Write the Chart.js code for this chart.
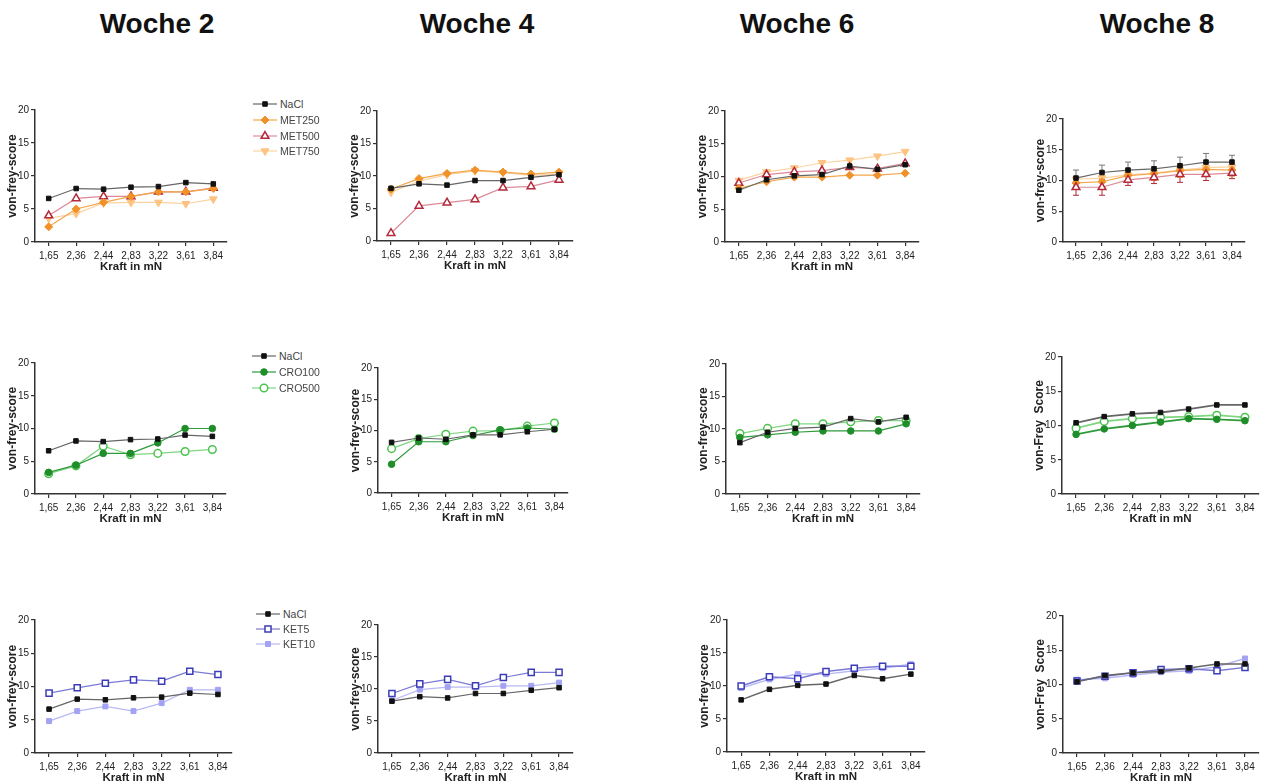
<!DOCTYPE html>
<html>
<head>
<meta charset="utf-8">
<script src="https://cdn.jsdelivr.net/npm/chart.js@4/dist/chart.umd.min.js"></script>
<style>
  body { margin: 0; background: #fff; }
  #page { position: relative; width: 1266px; height: 783px; overflow: hidden; font-family: "Liberation Sans", Arial, sans-serif; }
  .woche { position: absolute; top: 8px; width: 200px; margin-left: -100px; text-align: center; font-size: 28px; font-weight: bold; color: #111; }
  .panel { position: absolute; }
  .leg { position: absolute; display: flex; align-items: center; font-size: 10.5px; color: #444; }
  .leg canvas { margin-right: 3px; }
</style>
</head>
<body>
<div id="page"></div>
<script>
// x categories (Kraft in mN) and y axis range
const kraft = ['1,65', '2,36', '2,44', '2,83', '3,22', '3,61', '3,84'];
const yMin = 0, yMax = 20, yStep = 5;
const wochen = ['Woche 2', 'Woche 4', 'Woche 6', 'Woche 8'];

// NaCl control
const naclW2 = [6.6, 8.1, 8.0, 8.3, 8.4, 9.0, 8.8];
const naclW4 = [8.1, 8.8, 8.6, 9.3, 9.3, 9.8, 10.2];
const naclW6 = [7.9, 9.5, 10.1, 10.3, 11.6, 11.1, 11.8];
const naclW8 = [10.4, 11.3, 11.7, 11.9, 12.4, 13.0, 13.0];

// Metamizol
const met250W2 = [2.3, 5.0, 6.0, 6.9, 7.6, 7.6, 8.1];
const met500W2 = [4.0, 6.6, 6.9, 6.9, 7.6, 7.6, 8.2];
const met750W2 = [3.6, 4.3, 5.9, 6.0, 6.0, 5.8, 6.5];
const met250W4 = [8.0, 9.6, 10.4, 10.9, 10.6, 10.3, 10.6];
const met500W4 = [1.2, 5.4, 5.9, 6.4, 8.2, 8.4, 9.4];
const met750W4 = [7.5, 9.2, 10.2, 10.8, 10.5, 10.1, 10.3];
const met250W6 = [8.2, 9.2, 9.9, 9.9, 10.2, 10.2, 10.5];
const met500W6 = [9.0, 10.3, 10.7, 10.9, 11.4, 11.2, 12.0];
const met750W6 = [9.4, 10.7, 11.3, 12.1, 12.5, 13.1, 13.8];
const met250W8 = [9.6, 9.8, 10.8, 11.1, 11.6, 11.8, 11.7];
const met500W8 = [8.9, 8.9, 10.1, 10.5, 11.0, 11.0, 11.2];
const met750W8 = [10.2, 10.4, 10.9, 11.2, 11.7, 12.1, 12.2];
// SEM, week 8
const naclW8Sem = [1.3, 1.2, 1.3, 1.3, 1.4, 1.4, 1.1];
const met250W8Sem = [1.0, 1.0, 1.0, 1.1, 1.1, 1.0, 1.0];
const met500W8Sem = [1.3, 1.3, 0.9, 1.0, 1.3, 1.0, 0.9];

// Crocin
const cro100W2 = [3.3, 4.4, 6.2, 6.2, 7.8, 10.0, 10.0];
const cro500W2 = [3.1, 4.3, 7.3, 6.0, 6.2, 6.5, 6.8];
const cro100W4 = [4.6, 8.2, 8.2, 9.2, 10.1, 10.4, 10.2];
const cro500W4 = [7.1, 8.7, 9.4, 9.9, 10.0, 10.7, 11.2];
const cro100W6 = [8.7, 9.1, 9.5, 9.7, 9.7, 9.7, 10.8];
const cro500W6 = [9.3, 10.1, 10.8, 10.8, 11.1, 11.3, 11.3];
const cro100W8 = [8.7, 9.5, 10.0, 10.5, 11.0, 10.9, 10.7];
const cro500W8 = [9.6, 10.6, 11.0, 11.2, 11.3, 11.5, 11.2];

// Ketamin
const ket5W2 = [9.0, 9.8, 10.5, 11.0, 10.8, 12.3, 11.8];
const ket10W2 = [4.8, 6.3, 7.0, 6.3, 7.5, 9.5, 9.5];
const ket5W4 = [9.3, 10.8, 11.5, 10.5, 11.8, 12.6, 12.6];
const ket10W4 = [8.2, 9.9, 10.3, 10.3, 10.5, 10.5, 11.0];
const ket5W6 = [10.0, 11.4, 11.1, 12.2, 12.7, 13.0, 13.0];
const ket10W6 = [9.7, 11.0, 11.8, 11.8, 12.3, 12.7, 13.3];
const ket5W8 = [10.5, 11.2, 11.7, 12.2, 12.3, 12.0, 12.5];
const ket10W8 = [10.7, 10.9, 11.4, 11.8, 12.0, 12.6, 13.8];

// --------------------
// series styles
// --------------------
const STYLE = {
  NaCl:   { line: '#666', fill: '#111', border: '#111', point: 'rect', r: 3.2, bw: 1 },
  MET250: { line: '#f5a54a', fill: '#f0922a', border: '#f0922a', point: 'rectRot', r: 4, bw: 1 },
  MET500: { line: '#dc8a98', fill: '#fff', border: '#b3283a', point: 'triangle', r: 4.5, bw: 1.5 },
  MET750: { line: '#fcd3a0', fill: '#fdc383', border: '#fdc383', point: 'triangle', r: 4.5, bw: 1, rot: 180 },
  CRO100: { line: '#2e9a3a', fill: '#1f8e2a', border: '#1f8e2a', point: 'circle', r: 3.3, bw: 1 },
  CRO500: { line: '#7fd681', fill: '#fff', border: '#4cc34e', point: 'circle', r: 3.8, bw: 1.5 },
  KET5:   { line: '#7a7ad6', fill: '#fff', border: '#3c3cb8', point: 'rect', r: 4.3, bw: 1.5 },
  KET10:  { line: '#b8b8f4', fill: '#a3a3f3', border: '#a3a3f3', point: 'rect', r: 3.5, bw: 1 }
};

const page = document.getElementById('page');
const FONT = '"Liberation Sans", Arial, sans-serif';

wochen.forEach((w, i) => {
  const d = document.createElement('div');
  d.className = 'woche';
  d.style.left = [157, 477, 797, 1157][i] + 'px';
  d.textContent = w;
  page.appendChild(d);
});

// error bars from dataset.sem
const errorBars = {
  id: 'errorBars',
  beforeDatasetsDraw(chart) {
    const ctx = chart.ctx;
    const y = chart.scales.y;
    chart.data.datasets.forEach((ds, i) => {
      if (!ds.sem) return;
      const meta = chart.getDatasetMeta(i);
      ctx.save();
      ctx.strokeStyle = ds.semColor;
      ctx.lineWidth = 1;
      meta.data.forEach((pt, j) => {
        const t = y.getPixelForValue(ds.data[j] + ds.sem[j]);
        const b = y.getPixelForValue(ds.data[j] - ds.sem[j]);
        ctx.beginPath();
        ctx.moveTo(pt.x, t); ctx.lineTo(pt.x, b);
        ctx.moveTo(pt.x - 3, t); ctx.lineTo(pt.x + 3, t);
        ctx.moveTo(pt.x - 3, b); ctx.lineTo(pt.x + 3, b);
        ctx.stroke();
      });
      ctx.restore();
    });
  }
};

function makeDataset(name, data, lw, sem) {
  const s = STYLE[name];
  return {
    label: name,
    data: data,
    borderColor: s.line,
    borderWidth: lw || 1.2,
    backgroundColor: s.fill,
    pointStyle: s.point,
    pointRadius: s.r,
    pointRotation: s.rot || 0,
    pointBackgroundColor: s.fill,
    pointBorderColor: s.border,
    pointBorderWidth: s.bw,
    tension: 0,
    sem: sem,
    semColor: s.border === '#111' ? '#777' : s.border
  };
}

function panel(p) {
  const yw = 30, padT = 8, padR = 6;
  const xh = p.xTitle ? 32 : 20;
  const w = p.xEnd - p.axisX + yw + padR;
  const h = p.y0 - p.y20 + padT + xh;
  const box = document.createElement('div');
  box.className = 'panel';
  box.style.left = (p.axisX - yw) + 'px';
  box.style.top = (p.y20 - padT) + 'px';
  box.style.width = w + 'px';
  box.style.height = h + 'px';
  const cv = document.createElement('canvas');
  box.appendChild(cv);
  page.appendChild(box);

  const tickFont = { family: FONT, size: 10 };
  const yTitleFont = { family: FONT, size: 12, weight: 'bold' };
  const xTitleFont = { family: FONT, size: 11.5, weight: 'bold' };

  new Chart(cv, {
    type: 'line',
    data: { labels: kraft, datasets: p.series },
    plugins: [errorBars],
    options: {
      responsive: true,
      maintainAspectRatio: false,
      animation: false,
      layout: { padding: { top: padT, right: padR, left: 0, bottom: 0 } },
      plugins: { legend: { display: false }, tooltip: { enabled: false } },
      scales: {
        x: {
          offset: true,
          grid: { offset: false, drawOnChartArea: false, tickLength: 4, color: '#333', lineWidth: 1.2 },
          border: { color: '#333', width: 1.5 },
          ticks: { font: tickFont, color: '#222', padding: 4, maxRotation: 0, autoSkip: false },
          title: { display: p.xTitle, text: 'Kraft in mN', font: xTitleFont, color: '#222', padding: 0 },
          afterFit: s => { s.height = xh; }
        },
        y: {
          min: yMin, max: yMax,
          grid: { drawOnChartArea: false, tickLength: 4, color: '#333', lineWidth: 1.2 },
          border: { color: '#333', width: 1.5 },
          ticks: { stepSize: yStep, font: tickFont, color: '#222', padding: 2 },
          title: { display: true, text: p.yTitle || 'von-frey-score', font: yTitleFont, color: '#222', padding: 0 },
          afterFit: s => { s.width = yw; }
        }
      }
    }
  });
}

function legend(x, y0, names, gap) {
  names.forEach((n, i) => {
    const s = STYLE[n];
    const row = document.createElement('div');
    row.className = 'leg';
    row.style.left = x + 'px';
    row.style.top = (y0 + i * gap - 7) + 'px';
    const c = document.createElement('canvas');
    c.width = 24; c.height = 14;
    const ctx = c.getContext('2d');
    ctx.strokeStyle = s.line;
    ctx.lineWidth = 1.2;
    ctx.beginPath(); ctx.moveTo(0, 7); ctx.lineTo(24, 7); ctx.stroke();
    ctx.fillStyle = s.fill;
    ctx.strokeStyle = s.border;
    ctx.lineWidth = s.bw;
    Chart.helpers.drawPoint(ctx, { pointStyle: s.point, radius: s.r, rotation: s.rot || 0, borderWidth: s.bw }, 12, 7);
    const t = document.createElement('span');
    t.textContent = n;
    row.appendChild(c);
    row.appendChild(t);
    page.appendChild(row);
  });
}

// --------------------
// row 1: Metamizol
// --------------------
panel({ axisX: 35, y20: 110, y0: 242, xEnd: 227, xTitle: true, series: [
  makeDataset('NaCl', naclW2), makeDataset('MET250', met250W2), makeDataset('MET500', met500W2), makeDataset('MET750', met750W2)] });
panel({ axisX: 377, y20: 111, y0: 241, xEnd: 573, xTitle: true, series: [
  makeDataset('NaCl', naclW4), makeDataset('MET250', met250W4), makeDataset('MET500', met500W4), makeDataset('MET750', met750W4)] });
panel({ axisX: 725, y20: 111, y0: 242, xEnd: 919, xTitle: true, series: [
  makeDataset('NaCl', naclW6), makeDataset('MET250', met250W6), makeDataset('MET500', met500W6), makeDataset('MET750', met750W6)] });
panel({ axisX: 1063, y20: 119, y0: 242, xEnd: 1245, xTitle: false, series: [
  makeDataset('NaCl', naclW8, 1.2, naclW8Sem), makeDataset('MET500', met500W8, 1.2, met500W8Sem),
  makeDataset('MET250', met250W8, 1.2, met250W8Sem), makeDataset('MET750', met750W8)] });
legend(253, 104, ['NaCl', 'MET250', 'MET500', 'MET750'], 15.8);

// --------------------
// row 2: Crocin
// --------------------
panel({ axisX: 35, y20: 363, y0: 494, xEnd: 226, xTitle: true, series: [
  makeDataset('NaCl', naclW2), makeDataset('CRO100', cro100W2), makeDataset('CRO500', cro500W2)] });
panel({ axisX: 378, y20: 368, y0: 493, xEnd: 568, xTitle: true, series: [
  makeDataset('NaCl', naclW4), makeDataset('CRO100', cro100W4), makeDataset('CRO500', cro500W4)] });
panel({ axisX: 726, y20: 364, y0: 494, xEnd: 920, xTitle: true, series: [
  makeDataset('NaCl', naclW6), makeDataset('CRO100', cro100W6), makeDataset('CRO500', cro500W6)] });
panel({ axisX: 1062, y20: 357, y0: 494, xEnd: 1259, xTitle: true, yTitle: 'von-Frey  Score', series: [
  makeDataset('NaCl', naclW8, 1.8), makeDataset('CRO100', cro100W8, 1.8), makeDataset('CRO500', cro500W8, 1.8)] });
legend(252, 356, ['NaCl', 'CRO100', 'CRO500'], 16);

// --------------------
// row 3: Ketamin
// --------------------
panel({ axisX: 35, y20: 620, y0: 753, xEnd: 232, xTitle: true, series: [
  makeDataset('NaCl', naclW2), makeDataset('KET5', ket5W2), makeDataset('KET10', ket10W2)] });
panel({ axisX: 378, y20: 625, y0: 753, xEnd: 573, xTitle: true, series: [
  makeDataset('NaCl', naclW4), makeDataset('KET5', ket5W4), makeDataset('KET10', ket10W4)] });
panel({ axisX: 727, y20: 620, y0: 752, xEnd: 925, xTitle: true, series: [
  makeDataset('NaCl', naclW6, 1.5), makeDataset('KET5', ket5W6, 1.5), makeDataset('KET10', ket10W6, 1.5)] });
panel({ axisX: 1063, y20: 616, y0: 753, xEnd: 1259, xTitle: true, yTitle: 'von-Frey  Score', series: [
  makeDataset('NaCl', naclW8, 1.5), makeDataset('KET5', ket5W8, 1.5), makeDataset('KET10', ket10W8, 1.5)] });
legend(256, 614, ['NaCl', 'KET5', 'KET10'], 15);
</script>
</body>
</html>
